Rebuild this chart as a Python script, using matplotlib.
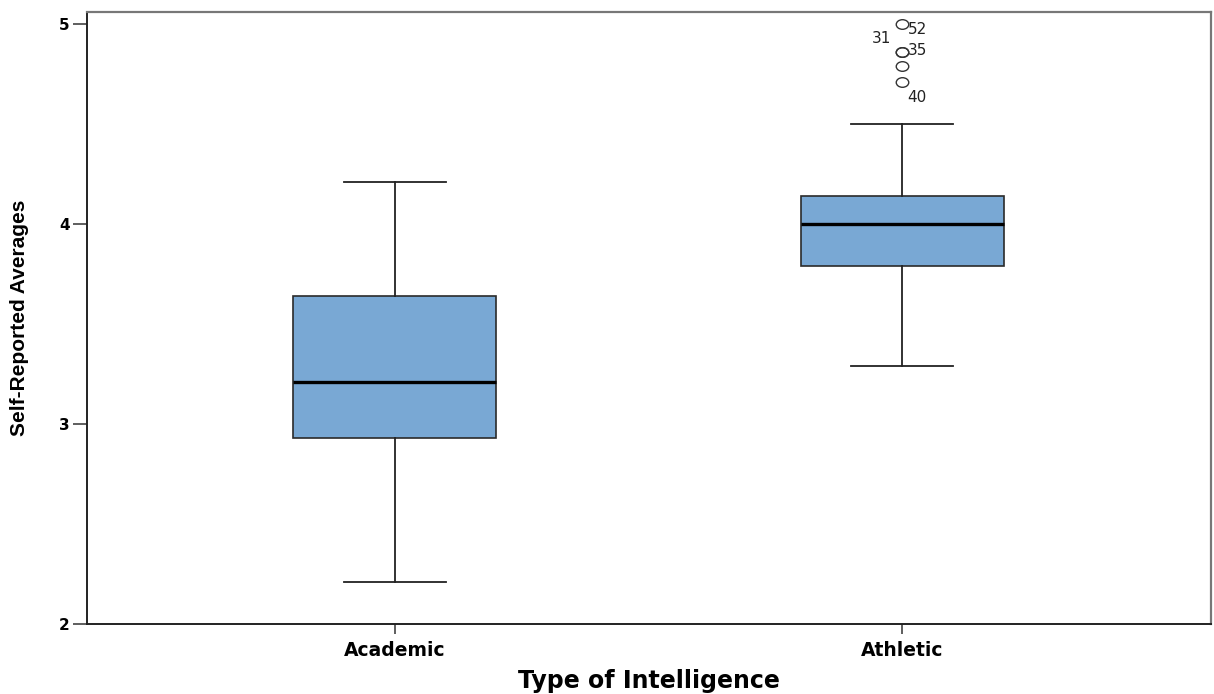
import matplotlib
matplotlib.use("Agg")
import matplotlib.pyplot as plt
from matplotlib.path import Path
from matplotlib.transforms import Affine2D

# summary statistics per group
categories = ['Academic', 'Athletic']
whislo = [2.21, 3.29]
q1 = [2.93, 3.79]
med = [3.21, 4.00]
q3 = [3.64, 4.14]
whishi = [4.21, 4.50]
fliers = [[], [5.00, 4.86, 4.86, 4.79, 4.71]]
flier_ids = [[], ['52', '31', '35', '', '40']]

box_color = '#79A8D4'

fig = plt.figure(figsize=(12.14, 6.94), dpi=100)
ax = fig.add_axes([0.0713, 0.1009, 0.9262, 0.8818])

stats = []
for i, name in enumerate(categories):
    stats.append(dict(label=name, whislo=whislo[i], q1=q1[i], med=med[i],
                      q3=q3[i], whishi=whishi[i], fliers=fliers[i]))

# slightly wide open circles for outliers
ring = Path.unit_circle().transformed(Affine2D().scale(1.3, 1.0))

ax.bxp(stats, positions=[1, 2], widths=0.4, patch_artist=True,
       boxprops=dict(facecolor=box_color, edgecolor='#2a2a2a', linewidth=1.2),
       medianprops=dict(color='black', linewidth=2.4),
       whiskerprops=dict(color='#222222', linewidth=1.3),
       capprops=dict(color='#222222', linewidth=1.3),
       flierprops=dict(marker=ring, markersize=9, markerfacecolor='none',
                       markeredgecolor='#333333', markeredgewidth=1.0))

# case labels next to the outliers (offsets in points)
offsets = {'52': (4, -4, 'left'), '31': (-8, 10, 'right'),
           '35': (4, 1, 'left'), '40': (4, -11, 'left')}
for i, vals in enumerate(fliers):
    for v, cid in zip(vals, flier_ids[i]):
        if not cid:
            continue
        dx, dy, ha = offsets[cid]
        ax.annotate(cid, (i + 1, v), xytext=(dx, dy), textcoords='offset points',
                    ha=ha, va='center', fontsize=11, color='#222222')

ax.set_xlim(0.392, 2.609)
ax.set_ylim(2, 5.06)
ax.set_yticks([2, 3, 4, 5])
ax.set_xticks([1, 2])
ax.set_xticklabels(categories)

for lab in ax.get_yticklabels() + ax.get_xticklabels():
    lab.set_fontweight('bold')
for lab in ax.get_yticklabels():
    lab.set_fontsize(11)
for lab in ax.get_xticklabels():
    lab.set_fontsize(13.5)

ax.tick_params(axis='y', length=10, width=1.1, pad=2, color='#333333')
ax.tick_params(axis='x', length=7, width=1.1, pad=5, color='#333333')

ax.set_ylabel('Self-Reported Averages', fontsize=15, fontweight='bold',
              family=['Liberation Sans', 'DejaVu Sans'], labelpad=22)
ax.set_xlabel('Type of Intelligence', fontsize=17, fontweight='bold', labelpad=7)

for side in ['left', 'bottom']:
    ax.spines[side].set_color('#222222')
    ax.spines[side].set_linewidth(1.4)
for side in ['top', 'right']:
    ax.spines[side].set_color('#777777')
    ax.spines[side].set_linewidth(1.6)

fig.savefig('out.png', dpi=100)
